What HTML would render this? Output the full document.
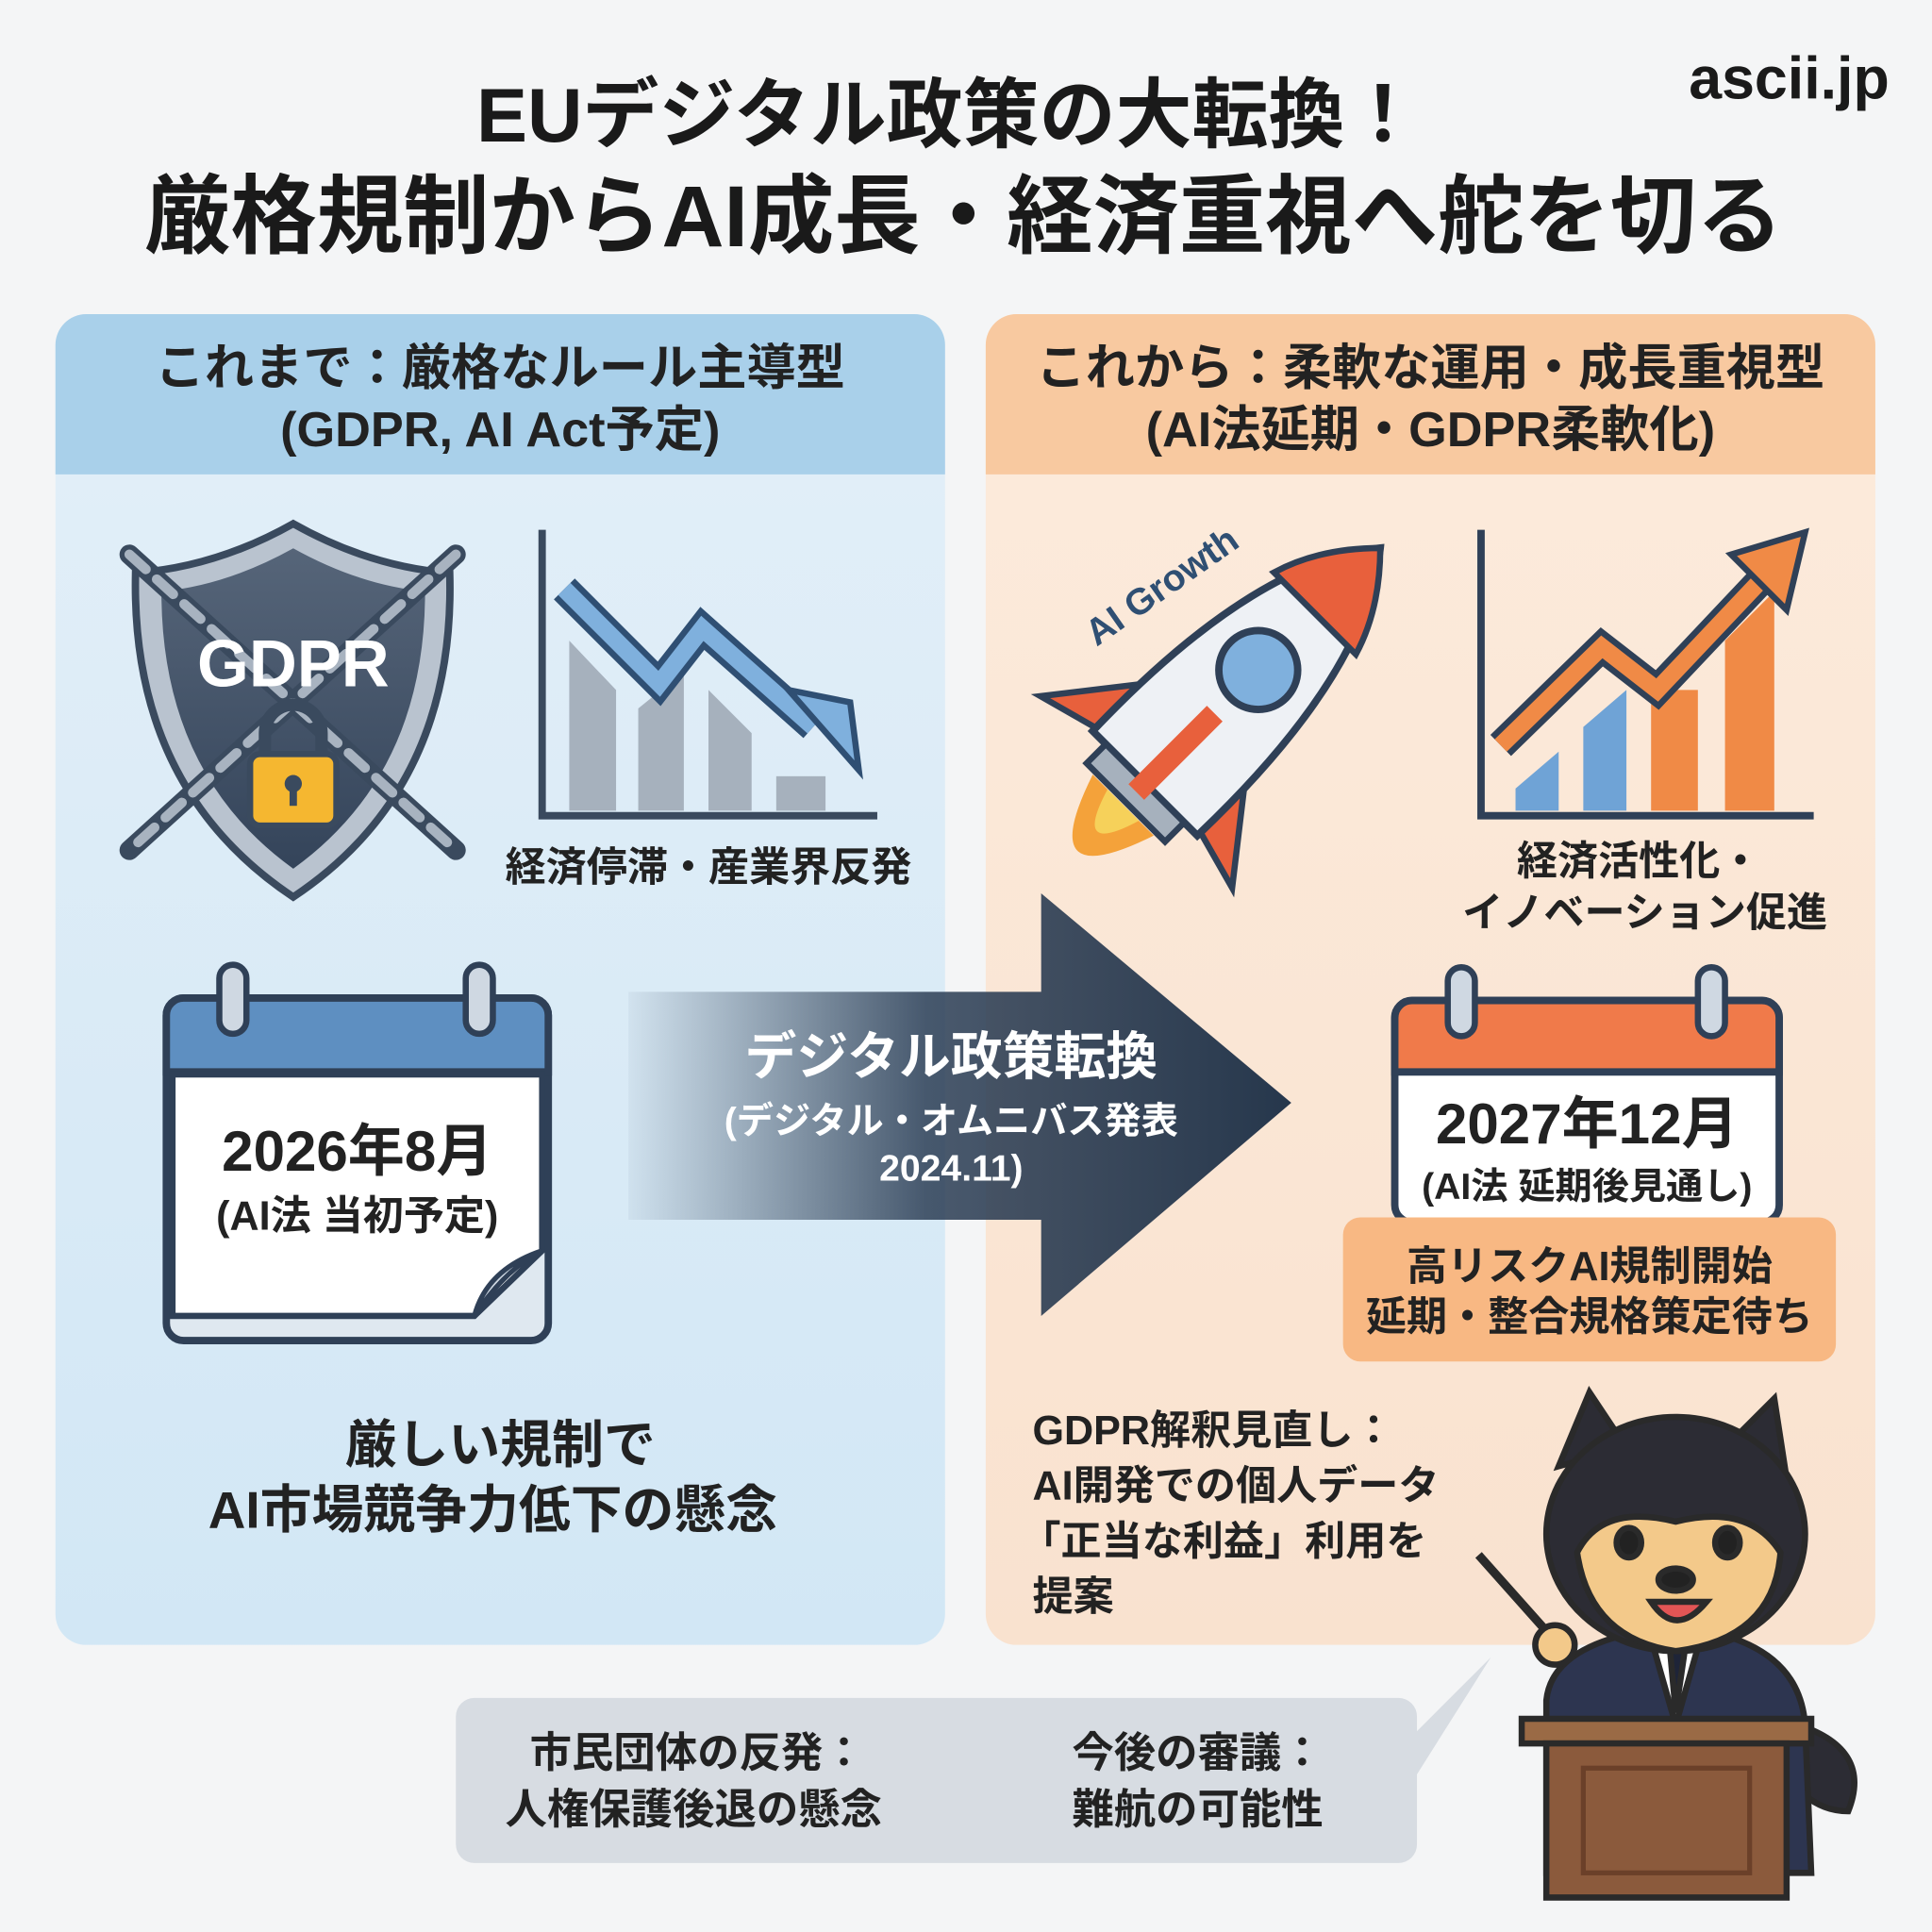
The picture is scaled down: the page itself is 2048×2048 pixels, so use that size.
<!DOCTYPE html>
<html><head><meta charset="utf-8">
<style>
html,body{margin:0;padding:0;background:#f4f5f6;}
svg{display:block;}
text{font-family:"Liberation Sans","Noto Sans CJK JP",sans-serif;font-weight:bold;}
</style></head>
<body>
<svg width="2048" height="2048" viewBox="0 0 1568 1568" xmlns="http://www.w3.org/2000/svg">
<defs>
<linearGradient id="lb" x1="0" y1="0" x2="0" y2="1"><stop offset="0" stop-color="#e3eff8"/><stop offset="1" stop-color="#d2e7f5"/></linearGradient>
<linearGradient id="rb" x1="0" y1="0" x2="0" y2="1"><stop offset="0" stop-color="#fcebdc"/><stop offset="1" stop-color="#f9e2cf"/></linearGradient>
<linearGradient id="arr" x1="0" y1="0" x2="1" y2="0"><stop offset="0" stop-color="#2c3e55" stop-opacity="0.05"/><stop offset="0.45" stop-color="#2c3e55" stop-opacity="0.85"/><stop offset="1" stop-color="#26374c"/></linearGradient>
<linearGradient id="sh" x1="0" y1="0" x2="0" y2="1"><stop offset="0" stop-color="#566579"/><stop offset="1" stop-color="#34445a"/></linearGradient>
</defs>
<rect width="1568" height="1568" fill="#f4f5f6"/>
<!-- titles -->
<text x="770" y="115" font-size="62" text-anchor="middle" fill="#1a1a1a">EUデジタル政策の大転換！</text>
<text x="782" y="200" font-size="70" text-anchor="middle" fill="#1a1a1a">厳格規制からAI成長・経済重視へ舵を切る</text>
<text x="1452" y="80" font-size="48" text-anchor="middle" fill="#1a1a1a">ascii.jp</text>

<!-- left panel -->
<rect x="45" y="255" width="722" height="1080" rx="25" fill="url(#lb)"/>
<path d="M70 255 H742 A25 25 0 0 1 767 280 V385 H45 V280 A25 25 0 0 1 70 255Z" fill="#a9d0ea"/>
<text x="406" y="312" font-size="40" text-anchor="middle" fill="#222">これまで：厳格なルール主導型</text>
<text x="406" y="362" font-size="40" text-anchor="middle" fill="#222">(GDPR, AI Act予定)</text>

<!-- right panel -->
<rect x="800" y="255" width="722" height="1080" rx="25" fill="url(#rb)"/>
<path d="M825 255 H1497 A25 25 0 0 1 1522 280 V385 H800 V280 A25 25 0 0 1 825 255Z" fill="#f8c9a0"/>
<text x="1161" y="312" font-size="40" text-anchor="middle" fill="#222">これから：柔軟な運用・成長重視型</text>
<text x="1161" y="362" font-size="40" text-anchor="middle" fill="#222">(AI法延期・GDPR柔軟化)</text>

<!-- shield -->
<path d="M238 425 Q300 460 365 465 Q370 640 238 728 Q106 640 110 465 Q176 460 238 425Z" fill="#b9c3cf" stroke="#3a4a5e" stroke-width="6"/>
<path d="M238 445 Q292 475 345 480 Q345 628 238 705 Q131 628 131 480 Q184 475 238 445Z" fill="url(#sh)"/>
<g stroke="#3a4a5e" stroke-width="16" stroke-linecap="round"><line x1="105" y1="450" x2="370" y2="690"/><line x1="370" y1="450" x2="105" y2="690"/></g>
<g stroke="#a8b3c0" stroke-width="8" stroke-linecap="round" stroke-dasharray="18 12"><line x1="105" y1="450" x2="370" y2="690"/><line x1="370" y1="450" x2="105" y2="690"/></g>
<text x="238" y="557" font-size="54" text-anchor="middle" fill="#fff">GDPR</text>
<path d="M215 615 V595 A23 23 0 0 1 261 595 V615" fill="none" stroke="#3a4a5e" stroke-width="10"/>
<rect x="203" y="612" width="70" height="58" rx="8" fill="#f5b730" stroke="#3a4a5e" stroke-width="5"/>
<circle cx="238" cy="636" r="7" fill="#3a4a5e"/><rect x="235" y="638" width="6" height="16" fill="#3a4a5e"/>

<!-- left chart -->
<polyline points="440,430 440,662 712,662" fill="none" stroke="#3a4a5e" stroke-width="6"/>
<g fill="#a6b1bd"><polygon points="462,520 500,560 500,658 462,658"/><polygon points="518,575 555,545 555,658 518,658"/><polygon points="575,560 610,595 610,658 575,658"/><rect x="630" y="630" width="40" height="28"/></g>
<polyline points="458,478 535,555 570,510 660,590" fill="none" stroke="#2f4f73" stroke-width="24" stroke-linejoin="miter"/>
<polyline points="458,478 535,555 570,510 660,590" fill="none" stroke="#7fb0dd" stroke-width="14"/>
<polygon points="640,560 690,570 697,625 " fill="#7fb0dd" stroke="#2f4f73" stroke-width="5"/>
<text x="575" y="715" font-size="33" text-anchor="middle" fill="#222">経済停滞・産業界反発</text>

<!-- left calendar -->
<rect x="135" y="810" width="310" height="278" rx="14" fill="#dfe8f0" stroke="#2f4057" stroke-width="6"/>
<path d="M149 810 H431 A14 14 0 0 1 445 824 V870 H135 V824 A14 14 0 0 1 149 810Z" fill="#5e8fc1" stroke="#2f4057" stroke-width="6"/>
<path d="M140 872 H440 V1015 L385 1068 H140Z" fill="#fff" stroke="#2f4057" stroke-width="5"/>
<path d="M385 1068 Q395 1030 440 1015 Q410 1030 385 1068Z" fill="#cfd8e2" stroke="#2f4057" stroke-width="4"/>
<rect x="178" y="783" width="22" height="56" rx="11" fill="#cfd8e2" stroke="#2f4057" stroke-width="5"/>
<rect x="378" y="783" width="22" height="56" rx="11" fill="#cfd8e2" stroke="#2f4057" stroke-width="5"/>
<text x="290" y="950" font-size="46" text-anchor="middle" fill="#222">2026年8月</text>
<text x="290" y="998" font-size="33" text-anchor="middle" fill="#222">(AI法 当初予定)</text>

<text x="406" y="1187" font-size="42" text-anchor="middle" fill="#222">厳しい規制で</text>
<text x="400" y="1240" font-size="42" text-anchor="middle" fill="#222">AI市場競争力低下の懸念</text>

<!-- big arrow -->
<path d="M510 805 H845 V725 L1048 895 L845 1068 V990 H510Z" fill="url(#arr)"/>
<text x="772" y="872" font-size="42" text-anchor="middle" fill="#fff">デジタル政策転換</text>
<text x="772" y="920" font-size="30" text-anchor="middle" fill="#fff">(デジタル・オムニバス発表</text>
<text x="772" y="958" font-size="30" text-anchor="middle" fill="#fff">2024.11)</text>

<!-- rocket -->
<g transform="translate(1000,565) rotate(45)">
<path d="M-55 40 L-110 110 L-55 95Z" fill="#e8603c" stroke="#2f4057" stroke-width="5"/>
<path d="M55 40 L110 110 L55 95Z" fill="#e8603c" stroke="#2f4057" stroke-width="5"/>
<path d="M0 -170 Q65 -90 60 100 H-60 Q-65 -90 0 -170Z" fill="#eef1f5" stroke="#2f4057" stroke-width="6"/>
<path d="M0 -170 Q35 -135 47 -95 H-47 Q-35 -135 0 -170Z" fill="#e8603c" stroke="#2f4057" stroke-width="5"/>
<circle cx="0" cy="-30" r="32" fill="#7fb0dd" stroke="#2f4057" stroke-width="6"/>
<rect x="-45" y="100" width="90" height="22" fill="#a6b1bd" stroke="#2f4057" stroke-width="5"/>
<path d="M-35 125 Q0 230 35 125Z" fill="#f4a23a"/><path d="M-18 125 Q0 185 18 125Z" fill="#f6d15a"/>
<path d="M0 20 V110" stroke="#e8603c" stroke-width="18"/>
</g>
<text transform="translate(890,525) rotate(-35)" font-size="30" fill="#2f4f73">AI Growth</text>

<!-- right chart -->
<polyline points="1202,430 1202,662 1472,662" fill="none" stroke="#2f4057" stroke-width="6"/>
<g><polygon points="1230,640 1265,610 1265,658 1230,658" fill="#6fa3d6"/><polygon points="1285,590 1320,560 1320,658 1285,658" fill="#6fa3d6"/><polygon points="1340,560 1378,560 1378,658 1340,658" fill="#f08a46"/><polygon points="1400,520 1440,480 1440,658 1400,658" fill="#f08a46"/></g>
<polyline points="1218,605 1300,525 1345,560 1430,470" fill="none" stroke="#2f4057" stroke-width="24"/>
<polyline points="1218,605 1300,525 1345,560 1430,470" fill="none" stroke="#f08a46" stroke-width="14"/>
<polygon points="1405,450 1465,432 1450,495" fill="#f08a46" stroke="#2f4057" stroke-width="5"/>
<text x="1330" y="710" font-size="33" text-anchor="middle" fill="#222">経済活性化・</text>
<text x="1335" y="752" font-size="33" text-anchor="middle" fill="#222">イノベーション促進</text>

<!-- right calendar -->
<rect x="1132" y="812" width="312" height="180" rx="14" fill="#fff" stroke="#2f4057" stroke-width="6"/>
<path d="M1146 812 H1430 A14 14 0 0 1 1444 826 V870 H1132 V826 A14 14 0 0 1 1146 812Z" fill="#f07a4a" stroke="#2f4057" stroke-width="6"/>
<rect x="1175" y="785" width="22" height="56" rx="11" fill="#cfd8e2" stroke="#2f4057" stroke-width="5"/>
<rect x="1378" y="785" width="22" height="56" rx="11" fill="#cfd8e2" stroke="#2f4057" stroke-width="5"/>
<text x="1288" y="928" font-size="46" text-anchor="middle" fill="#222">2027年12月</text>
<text x="1288" y="973" font-size="30" text-anchor="middle" fill="#222">(AI法 延期後見通し)</text>
<rect x="1090" y="988" width="400" height="117" rx="14" fill="#f8b883"/>
<text x="1290" y="1039" font-size="33" text-anchor="middle" fill="#222">高リスクAI規制開始</text>
<text x="1290" y="1080" font-size="33" text-anchor="middle" fill="#222">延期・整合規格策定待ち</text>

<g font-size="33" fill="#222">
<text x="838" y="1172">GDPR解釈見直し：</text>
<text x="838" y="1217">AI開発での個人データ</text>
<text x="828" y="1262">「正当な利益」利用を</text>
<text x="838" y="1307">提案</text>
</g>

<!-- bubble -->
<path d="M385 1378 H1135 A15 15 0 0 1 1150 1393 V1405 L1210 1345 L1150 1440 V1497 A15 15 0 0 1 1135 1512 H385 A15 15 0 0 1 370 1497 V1393 A15 15 0 0 1 385 1378Z" fill="#d7dce2"/>
<g font-size="34" fill="#222">
<text x="430" y="1434">市民団体の反発：</text>
<text x="410" y="1480">人権保護後退の懸念</text>
<text x="870" y="1434">今後の審議：</text>
<text x="870" y="1480">難航の可能性</text>
</g>

<!-- dog -->
<g stroke="#2a2a2a" stroke-width="5">
<path d="M1460 1400 Q1520 1420 1500 1470 Q1470 1470 1450 1440Z" fill="#2c2c34"/>
<path d="M1255 1380 Q1260 1330 1360 1320 Q1460 1330 1465 1400 L1470 1520 H1255Z" fill="#2d3550"/>
<path d="M1340 1330 L1360 1400 L1380 1330Z" fill="#fff"/>
<path d="M1355 1335 L1360 1390 L1368 1335Z" fill="#1e2438"/>
<path d="M1265 1190 L1290 1130 L1320 1175Z" fill="#2c2c34"/>
<path d="M1400 1175 L1440 1135 L1450 1200Z" fill="#2c2c34"/>
<ellipse cx="1360" cy="1245" rx="105" ry="95" fill="#2c2c34"/>
<path d="M1280 1260 Q1290 1330 1360 1340 Q1440 1330 1445 1260 Q1420 1220 1360 1235 Q1300 1220 1280 1260Z" fill="#f3c98a"/>
<ellipse cx="1322" cy="1252" rx="10" ry="12" fill="#222"/>
<ellipse cx="1402" cy="1252" rx="10" ry="12" fill="#222"/>
<ellipse cx="1360" cy="1282" rx="14" ry="9" fill="#222"/>
<path d="M1340 1300 Q1360 1330 1385 1300Z" fill="#e25555"/>
<line x1="1200" y1="1262" x2="1265" y2="1335" stroke-width="7"/>
<circle cx="1262" cy="1335" r="16" fill="#f3c98a"/>
<path d="M1235 1395 H1470 V1415 H1235Z" fill="#9a6a45"/>
<path d="M1255 1415 H1450 V1540 H1255Z" fill="#8b5a3c"/>
<rect x="1285" y="1435" width="135" height="85" fill="none" stroke="#6b4029" stroke-width="4"/>
</g>
</svg>
</body></html>
